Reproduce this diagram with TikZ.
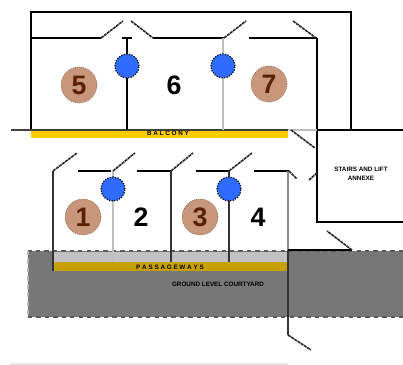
\documentclass[tikz,border=0pt]{standalone}
\usepackage{fontspec}
\setmainfont{Liberation Sans}
\usetikzlibrary{arrows.meta}
\definecolor{strip}{HTML}{FFCC00}
\definecolor{stripdark}{HTML}{C8A000}
\definecolor{yard}{HTML}{777777}
\definecolor{yardlight}{HTML}{C2C2C2}
\definecolor{blob}{HTML}{C8967A}
\definecolor{blobtext}{HTML}{5A2000}
\definecolor{lamp}{HTML}{2F6BFF}
\tikzset{
    wall/.style={draw=black, line width=0.05cm},
    softwall/.style={draw=black!80, line width=0.05cm},
    paleline/.style={draw=black!25, line width=0.05cm},
    doorleaf/.style={draw=black!85, line width=0.04cm, dash pattern=on 2.2pt off 0.5pt},
    room/.style={font={\fontsize{19}{19}\selectfont\bfseries}, black},
    unit/.style={circle, minimum size=0.9cm, inner sep=0pt, fill=blob, draw=black!70, densely dotted,
        font={\fontsize{19}{19}\selectfont\bfseries}, text=blobtext},
    lampost/.style={circle, minimum size=0.6cm, inner sep=0pt, fill=lamp, draw=black, densely dotted, line width=0.03cm},
    tiny/.style={font={\fontsize{4.5}{6.5}\selectfont\bfseries}, black, inner sep=0pt, align=center}
}
\begin{document}
\begin{tikzpicture}[x=0.025cm, y=-0.025cm]
    \useasboundingbox (0,0) rectangle (403,365);
    % ground and strips
    \fill[yard] (28,251) rectangle (403,317);
    \draw[black!65, line width=0.04cm, dashed] (403,251) -- (28,251);
    \draw[black!65, line width=0.04cm, dashed] (28,317) -- (403,317);
    \draw[black!30, line width=0.04cm, dashed] (28,251) -- (28,317);
    \fill[yardlight] (53,252) rectangle (288,262);
    \fill[stripdark] (53,262) rectangle (288,271);
    \fill[strip] (31,130) rectangle (288,138);
    \draw[black!10, line width=0.03cm] (10,364) -- (288,364);

    % upper block
    \draw[wall] (31,130) -- (31,12) -- (351,12) -- (351,130);
    \draw[wall] (31,38) -- (101,38);
    \draw[wall] (153,38) -- (224,38);
    \draw[wall] (249,38) -- (317,38);
    \draw[wall] (317,38) -- (317,222) -- (403,222);
    \draw[black!75, line width=0.04cm] (11,130) -- (288,130);
    \draw[paleline] (288,130) -- (317,130);
    \draw[wall] (317,130) -- (403,130);
    \draw[wall] (122,38.5) -- (132,38.5);
    \draw[wall] (127,38) -- (127,130);
    \draw[paleline] (223,38) -- (223,130);
    \draw[doorleaf] (101,38) -- (123,21);
    \draw[doorleaf] (131,21) -- (153,38);
    \draw[doorleaf] (224,38) -- (246,21);
    \draw[doorleaf] (293,21) -- (316,38);
    \draw[doorleaf] (291,130) -- (315,148);

    % lower block
    \draw[softwall] (53,271) -- (53,171);
    \draw[wall] (78,171) -- (111,171);
    \draw[wall] (137,171) -- (171,171);
    \draw[softwall] (171,262) -- (171,171);
    \draw[wall] (196,171) -- (229,171);
    \draw[wall] (254,171) -- (289,171);
    \draw[black!45, line width=0.05cm] (288,171) -- (288,250);
    \draw[black!80, line width=0.05cm] (288,250) -- (288,335);
    \draw[paleline] (113,171) -- (113,262);
    \draw[softwall] (229,171) -- (229,262);
    \draw[wall] (288,250) -- (352,250);
    \draw[doorleaf] (53,171) -- (77,153);
    \draw[doorleaf] (113,171) -- (135,153);
    \draw[doorleaf] (171,171) -- (193,153);
    \draw[doorleaf] (229,171) -- (252,153);
    \draw[doorleaf] (289,171) -- (297,179);
    \draw[doorleaf] (309,180) -- (317,173);
    \draw[doorleaf] (352,250) -- (327,231);
    \draw[doorleaf] (288,335) -- (311,350);

    % lamps
    \node[lampost] (lampa) at (127,66) {};
    \node[lampost] (lampb) at (223,66) {};
    \node[lampost] (lampc) at (113,189) {};
    \node[lampost] (lampd) at (229,189) {};

    % rooms
    \node[unit] (roomfive) at (79,85) {5};
    \node[room] (roomsix) at (174,85) {6};
    \node[unit] (roomseven) at (269,84) {7};
    \node[unit] (roomone) at (83,217) {1};
    \node[room] (roomtwo) at (141,217) {2};
    \node[unit] (roomthree) at (200,217) {3};
    \node[room] (roomfour) at (258,217) {4};

    % small labels
    \node[tiny] (upperstrip) at (168,133) {B A L C O N Y};
    \node[tiny] (lowerstrip) at (170,267) {P A S S A G E W A Y S};
    \node[tiny] (yardlabel) at (218,284) {GROUND LEVEL COURTYARD};
    \node[tiny] (annex) at (361,174) {STAIRS AND LIFT\\ANNEXE};
\end{tikzpicture}
\end{document}
